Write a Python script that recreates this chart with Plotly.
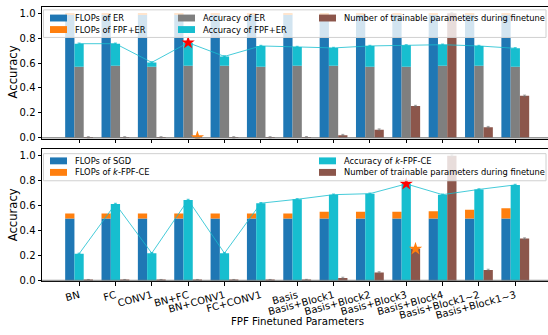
import plotly.graph_objects as go

# ---------------- data ----------------
categories = ["BN", "FC", "CONV1", "BN+FC", "BN+CONV1", "FC+CONV1", "Basis",
              "Basis+Block1", "Basis+Block2", "Basis+Block3", "Basis+Block4",
              "Basis+Block1~2", "Basis+Block1~3"]

# top panel (ER)
flops_er = [0.99, 0.99, 0.99, 0.99, 0.99, 0.99, 0.99, 0.99, 0.99, 0.99, 0.99, 0.99, 0.99]
flops_fpf_er = [1.0, 1.0, 1.0, 1.0, 1.0, 1.0, 1.0, 1.0, 1.0, 1.0, 1.0, 1.0, 1.0]
acc_er = [0.571, 0.579, 0.571, 0.579, 0.579, 0.571, 0.579, 0.579, 0.571, 0.571, 0.579, 0.579, 0.571]
acc_fpf_er = [0.755, 0.755, 0.605, 0.763, 0.653, 0.737, 0.729, 0.721, 0.737, 0.742, 0.747, 0.737, 0.718]

# number of trainable parameters (normalised)
params = [0.004, 0.004, 0.004, 0.004, 0.004, 0.004, 0.005, 0.022, 0.066, 0.255, 1.0, 0.086, 0.337]

# bottom panel (SGD / k-FPF-CE)
flops_sgd = [0.498, 0.498, 0.498, 0.498, 0.498, 0.498, 0.498, 0.498, 0.498, 0.498, 0.498, 0.498, 0.498]
flops_kfpf = [0.538, 0.538, 0.538, 0.538, 0.538, 0.538, 0.538, 0.551, 0.551, 0.551, 0.555, 0.567, 0.580]
acc_kfpf = [0.215, 0.614, 0.220, 0.646, 0.220, 0.620, 0.651, 0.688, 0.696, 0.774, 0.688, 0.730, 0.766]

best_top = 3      # index marked with stars in top panel
best_bottom = 9   # index marked with stars in bottom panel

# ---------------- style ----------------
BLUE, ORANGE, GREY, CYAN, BROWN = "#1f77b4", "#ff7f0e", "#7f7f7f", "#17becf", "#8c564b"
FONT = "DejaVu Sans"
W, H = 548, 335
BW = 0.255
xi = list(range(len(categories)))


def X(px):
    return px / W


def Y(py):
    return 1 - py / H


fig = go.Figure()


def add_panel(xa, ya, flops_base, flops_total, acc_base, acc_total, flops_base_c, acc_base_c, best):
    xl = [i - BW for i in xi]
    xc = xi
    xr = [i + BW for i in xi]
    # FLOPs bars (base + extra stacked)
    fig.add_trace(go.Bar(x=xl, y=flops_base, width=BW, marker=dict(color=flops_base_c, line=dict(width=0)),
                         xaxis=xa, yaxis=ya, showlegend=False))
    fig.add_trace(go.Bar(x=xl, y=[t - b for t, b in zip(flops_total, flops_base)], base=flops_base, width=BW,
                         marker=dict(color=ORANGE, line=dict(width=0)), xaxis=xa, yaxis=ya, showlegend=False))
    # accuracy bars
    if acc_base is not None:
        fig.add_trace(go.Bar(x=xc, y=acc_base, width=BW, marker=dict(color=acc_base_c, line=dict(width=0)),
                             xaxis=xa, yaxis=ya, showlegend=False))
        fig.add_trace(go.Bar(x=xc, y=[t - b for t, b in zip(acc_total, acc_base)], base=acc_base, width=BW,
                             marker=dict(color=CYAN, line=dict(width=0)), xaxis=xa, yaxis=ya, showlegend=False))
    else:
        fig.add_trace(go.Bar(x=xc, y=acc_total, width=BW, marker=dict(color=CYAN, line=dict(width=0)),
                             xaxis=xa, yaxis=ya, showlegend=False))
    # parameter bars
    fig.add_trace(go.Bar(x=xr, y=params, width=BW, marker=dict(color=BROWN, line=dict(width=0)),
                         error_y=dict(type="constant", value=0.006, color="rgba(110,110,110,0.6)",
                                      thickness=1, width=1.5),
                         xaxis=xa, yaxis=ya, showlegend=False))
    # accuracy line
    fig.add_trace(go.Scatter(x=xc, y=acc_total, mode="lines", line=dict(color="rgba(23,190,207,0.8)", width=1),
                             error_y=dict(type="constant", value=0.005, color="rgba(23,190,207,0.8)",
                                          thickness=1, width=1.5),
                             xaxis=xa, yaxis=ya, showlegend=False))
    # stars
    fig.add_trace(go.Scatter(x=[xc[best]], y=[acc_total[best]], mode="markers",
                             marker=dict(symbol="star", size=10, color="red", line=dict(width=0)),
                             xaxis=xa, yaxis=ya, showlegend=False))
    fig.add_trace(go.Scatter(x=[xr[best]], y=[params[best]], mode="markers",
                             marker=dict(symbol="star", size=10, color=ORANGE, line=dict(width=0)),
                             xaxis=xa, yaxis=ya, showlegend=False))


add_panel("x", "y", flops_er, flops_fpf_er, acc_er, acc_fpf_er, BLUE, GREY, best_top)
add_panel("x2", "y2", flops_sgd, flops_kfpf, None, acc_kfpf, BLUE, GREY, best_bottom)

xrange = [-1.02, 12.9]
xdom = [X(42), 1.0]
common_x = dict(range=xrange, domain=xdom, showline=True, linecolor="black", linewidth=1, mirror=True,
                ticks="outside", ticklen=3.5, tickcolor="black", tickwidth=1, showgrid=False, zeroline=False,
                tickvals=xi, ticktext=categories)
common_y = dict(range=[-0.005, 1.05], showline=True, linecolor="black", linewidth=1, mirror=False,
                ticks="outside", ticklen=3.5, tickcolor="black", tickwidth=1, showgrid=False, zeroline=False,
                tickvals=[0, 0.2, 0.4, 0.6, 0.8, 1.0], tickformat=".1f",
                tickfont=dict(family=FONT, size=10, color="black"))

fig.update_layout(
    width=W, height=H, margin=dict(l=0, r=0, t=0, b=0),
    paper_bgcolor="white", plot_bgcolor="white", barmode="overlay",
    font=dict(family=FONT, size=10, color="black"),
    xaxis=dict(common_x, anchor="y", showticklabels=False),
    yaxis=dict(common_y, domain=[Y(140.6), Y(7.0)], anchor="x"),
    xaxis2=dict(common_x, anchor="y2", tickangle=-15, tickfont=dict(family=FONT, size=10, color="black")),
    yaxis2=dict(common_y, domain=[Y(285.6), Y(151.65)], anchor="x2"),
)

shapes = []
# grey zero lines
for ya in ["y", "y2"]:
    xr_ = "x domain" if ya == "y" else "x2 domain"
    shapes.append(dict(type="line", xref=xr_, yref=ya, x0=0, x1=1, y0=0, y1=0, layer="above",
                       line=dict(color="rgba(128,128,128,0.8)", width=2)))

annotations = []
# legends (drawn manually to match the boxed 3-column layout)
top_legend = [(50, 18.3, BLUE, "FLOPs of ER"), (50, 30.0, ORANGE, "FLOPs of FPF+ER"),
              (178, 18.3, GREY, "Accuracy of ER"), (178, 30.0, CYAN, "Accuracy of FPF+ER"),
              (319, 18.3, BROWN, "Number of trainable parameters during finetune")]
bot_legend = [(50, 163.3, BLUE, "FLOPs of SGD"), (50, 175.0, ORANGE, "FLOPs of <i>k</i>-FPF-CE"),
              (319, 163.3, CYAN, "Accuracy of <i>k</i>-FPF-CE"),
              (319, 175.0, BROWN, "Number of trainable parameters during finetune")]
for (y0, y1) in [(10, 38), (156, 183.5)]:
    shapes.append(dict(type="rect", xref="paper", yref="paper", x0=X(43.5), x1=X(546), y0=Y(y1), y1=Y(y0),
                       layer="above", fillcolor="rgba(255,255,255,0.8)", line=dict(color="#d0d0d0", width=1)))
for (sx, sy, col, txt) in top_legend + bot_legend:
    shapes.append(dict(type="rect", xref="paper", yref="paper", x0=X(sx), x1=X(sx + 17),
                       y0=Y(sy + 3.5), y1=Y(sy - 3.5), layer="above", fillcolor=col, line=dict(width=0)))
    annotations.append(dict(xref="paper", yref="paper", x=X(sx + 23), y=Y(sy), text=txt, showarrow=False,
                            xanchor="left", yanchor="middle", font=dict(family=FONT, size=8.3, color="black")))

# axis labels
for yc in [73.5, 218.5]:
    annotations.append(dict(xref="paper", yref="paper", x=X(13), y=Y(yc), text="Accuracy", showarrow=False,
                            textangle=-90, xanchor="center", yanchor="middle",
                            font=dict(family=FONT, size=11.6, color="black")))
annotations.append(dict(xref="paper", yref="paper", x=X(297), y=Y(326.7), text="FPF Finetuned Parameters",
                        showarrow=False, xanchor="center", yanchor="middle",
                        font=dict(family=FONT, size=10.2, color="black")))

fig.update_layout(shapes=shapes, annotations=annotations)
fig.write_html("out.html")
